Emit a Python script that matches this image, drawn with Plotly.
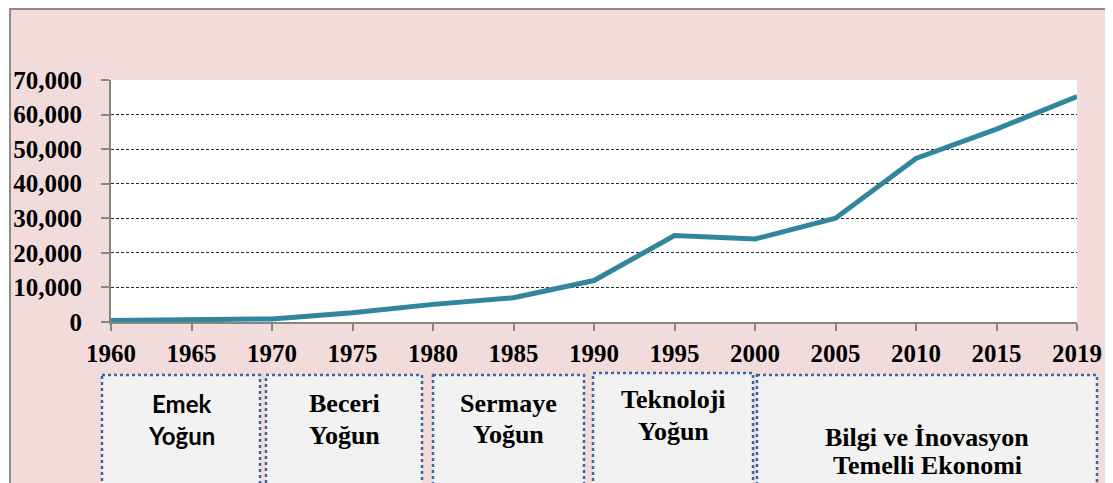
import plotly.graph_objects as go

years = ["1960", "1965", "1970", "1975", "1980", "1985", "1990", "1995", "2000", "2005", "2010", "2015", "2019"]
values = [400, 500, 900, 2700, 5100, 7000, 12000, 25000, 24000, 30000, 47300, 55800, 65200]
y_ticks = [0, 10000, 20000, 30000, 40000, 50000, 60000, 70000]
y_tick_labels = ["0", "10,000", "20,000", "30,000", "40,000", "50,000", "60,000", "70,000"]

# phase boxes: (label lines, left px, right px, top px, line centre ys, font) in page pixels
phases = [
    (["Emek", "Yoğun"], 102, 260, 375, [403, 435], "sans"),
    (["Beceri", "Yoğun"], 266, 422, 375, [403, 435], "serif"),
    (["Sermaye", "Yoğun"], 433, 584, 375, [403, 434], "serif"),
    (["Teknoloji", "Yoğun"], 593, 753, 373, [399, 431], "serif"),
    (["Bilgi ve İnovasyon", "Temelli Ekonomi"], 757, 1097, 375, [437, 465], "serif"),
]

OFF = 8  # page body margin
W, H = 1113 - OFF, 483 - OFF
L, R, T, B = 111 - OFF, 1077 - OFF, 80 - OFF, 322 - OFF


def px(x):
    return (x - OFF - L) / (R - L)


def py(y):
    return (B - (y - OFF)) / (B - T)


SERIF = "Liberation Serif"
SANS = "Lato"
LINE = "#31859C"
AXIS = "#868686"

fig = go.Figure()
fig.add_trace(go.Scatter(
    x=years, y=values, mode="lines",
    line=dict(color=LINE, width=5), hoverinfo="skip", showlegend=False,
))

shapes = []
annotations = []
# outer pink frame with border
shapes.append(dict(type="rect", xref="paper", yref="paper",
                   x0=px(10), x1=px(1130), y0=py(9), y1=py(500),
                   line=dict(color="#8c8c8c", width=2), fillcolor="#F2DCDB", layer="below"))
shapes.append(dict(type="rect", xref="paper", yref="paper",
                   x0=0, x1=1, y0=0, y1=1,
                   line=dict(width=0), fillcolor="white", layer="below"))
for lines, x0, x1, top, ys, fam in phases:
    shapes.append(dict(type="rect", xref="paper", yref="paper",
                       x0=px(x0), x1=px(x1), y0=py(top), y1=py(495),
                       line=dict(color="#3d66a0", width=2.5, dash="dot"),
                       fillcolor="#F2F2F2"))
    for txt, yy in zip(lines, ys):
        annotations.append(dict(
            text=f"<b>{txt}</b>", xref="paper", yref="paper",
            x=px((x0 + x1) / 2), y=py(yy), xanchor="center", yanchor="middle",
            showarrow=False,
            font=dict(family=SANS if fam == "sans" else SERIF,
                      size=24 if fam == "sans" else 26, color="black"),
        ))

fig.update_layout(
    width=W, height=H,
    margin=dict(l=L, r=W - R, t=T, b=H - B, pad=0, autoexpand=False),
    paper_bgcolor="white", plot_bgcolor="white",
    shapes=shapes, annotations=annotations,
    font=dict(family=SERIF, color="black"),
)
fig.update_xaxes(
    type="category", range=[0, len(years) - 1], automargin=False,
    tickvals=years, ticktext=[f"<b>{y}</b>" for y in years],
    showline=True, linecolor=AXIS, linewidth=2,
    ticks="outside", ticklen=7, tickwidth=2, tickcolor=AXIS,
    showgrid=False, zeroline=False,
    tickfont=dict(family=SERIF, size=25, color="black"),
    ticklabelstandoff=1,
)
fig.update_yaxes(
    range=[0, 70000], automargin=False,
    tickvals=y_ticks, ticktext=[f"<b>{t}</b>" for t in y_tick_labels],
    showline=True, linecolor=AXIS, linewidth=2,
    ticks="outside", ticklen=8, tickwidth=2, tickcolor=AXIS,
    showgrid=True, gridcolor="#262626", gridwidth=1, griddash="3px,2px",
    zeroline=False,
    tickfont=dict(family=SERIF, size=25, color="black"),
    ticklabelstandoff=14,
)

fig.write_html("out.html")
